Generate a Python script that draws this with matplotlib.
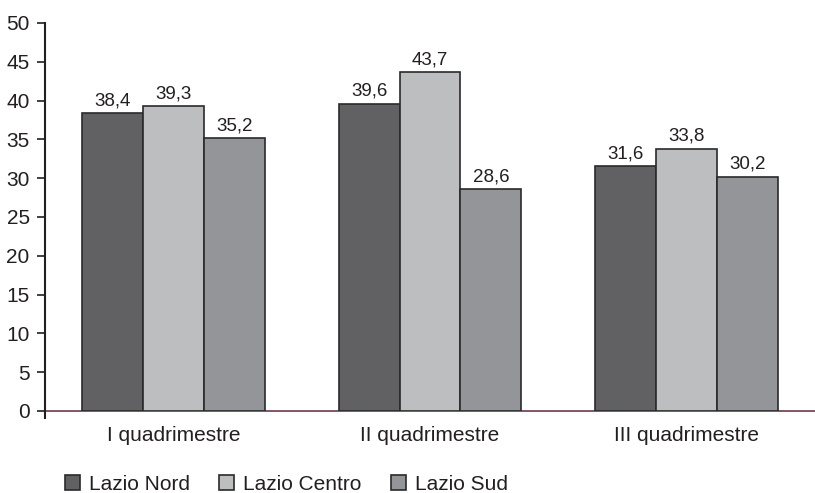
import numpy as np
import matplotlib
matplotlib.use('Agg')
import matplotlib.pyplot as plt

plt.rcParams['font.family'] = ['Liberation Sans', 'DejaVu Sans']

periodi = ['I quadrimestre', 'II quadrimestre', 'III quadrimestre']
lazio_nord = [38.4, 39.6, 31.6]
lazio_centro = [39.3, 43.7, 33.8]
lazio_sud = [35.2, 28.6, 30.2]

serie = [('Lazio Nord', lazio_nord, '#616163'),
         ('Lazio Centro', lazio_centro, '#bdbec0'),
         ('Lazio Sud', lazio_sud, '#949598')]

testo = '#231f20'

fig = plt.figure(figsize=(8.15, 4.93), dpi=100)
ax = fig.add_axes([45/815, 1-411/493, 1-45/815, (411-23)/493])

x = np.arange(len(periodi))
w = 0.237
for i, (nome, vals, col) in enumerate(serie):
    pos = x + (i-1)*w
    bars = ax.bar(pos, vals, w, color=col, edgecolor='#2a2a2a', linewidth=1.2, label=nome)
    for b, v in zip(bars, vals):
        ax.text(b.get_x()+b.get_width()/2, v+1.0, ('%.1f' % v).replace('.', ','),
                ha='center', va='baseline', fontsize=13.5, color=testo)

ax.set_xlim(-0.5, 2.5)
ax.set_ylim(0, 50)
ax.set_yticks(range(0, 51, 5))
ax.set_xticks(x)
ax.set_xticklabels(periodi)
# piccolo segno sotto l'origine
ax.set_xticks([-0.5], minor=True)
ax.tick_params(axis='x', which='minor', length=6, width=1.5, color=testo)
ax.tick_params(axis='x', which='major', length=0, pad=11, labelsize=15, colors=testo)
ax.tick_params(axis='y', length=6, width=1.2, direction='out', pad=5,
               labelsize=15, colors=testo)
for s in ['top', 'right']:
    ax.spines[s].set_visible(False)
ax.spines['left'].set_linewidth(1.5)
ax.spines['left'].set_color(testo)
ax.spines['bottom'].set_color('#6b3a50')
ax.spines['bottom'].set_linewidth(1.2)
ax.spines['bottom'].set_zorder(0.5)

leg = fig.legend(loc='center left', bbox_to_anchor=(65/815, 1-484/493), ncol=3,
                 frameon=False, fontsize=15, handlelength=0.72, handleheight=0.72,
                 handletextpad=0.43, columnspacing=1.4, borderpad=0, borderaxespad=0)
for t in leg.get_texts():
    t.set_color(testo)

fig.savefig('out.png', dpi=100)
